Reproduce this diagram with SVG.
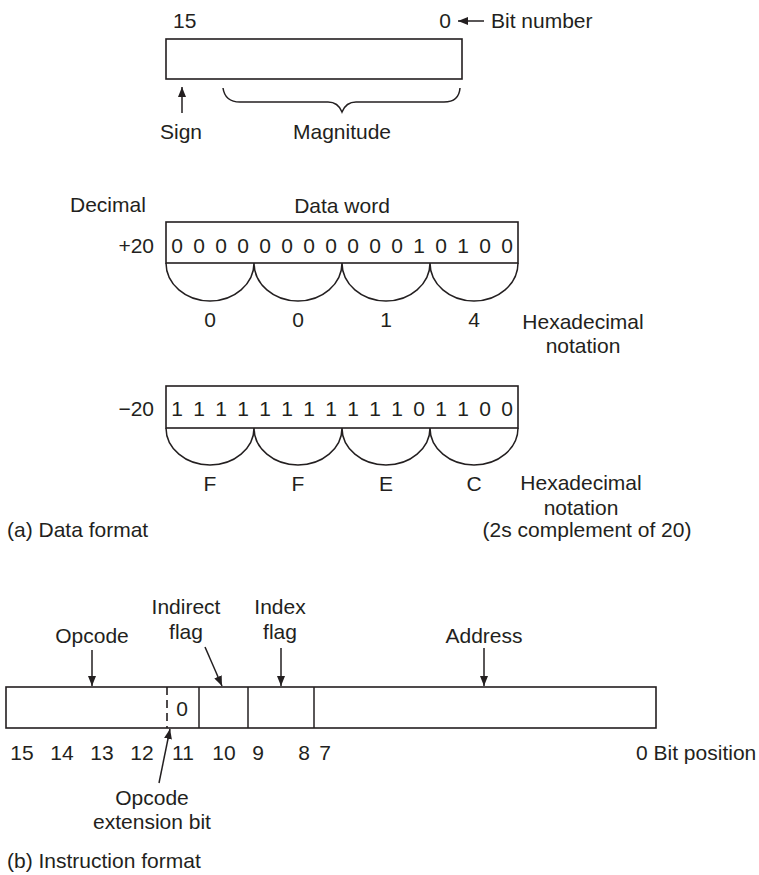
<svg xmlns="http://www.w3.org/2000/svg" width="759" height="875" viewBox="0 0 759 875">
<style>
text{font-family:"Liberation Sans",Arial,Helvetica,sans-serif;font-size:21px;fill:#231f20}
.m{text-anchor:middle}
.e{text-anchor:end}
.box{fill:#fff;stroke:#231f20;stroke-width:1.6}
.ln{fill:none;stroke:#231f20;stroke-width:1.5}
.ar{fill:none;stroke:#231f20;stroke-width:1.5;marker-end:url(#ah)}
.dash{stroke:#231f20;stroke-width:1.6;stroke-dasharray:8,5}
</style>
<defs>
<marker id="ah" viewBox="0 0 10 8" refX="10" refY="4" markerWidth="10" markerHeight="8" markerUnits="userSpaceOnUse" orient="auto">
<path d="M0,0 L10,4 L0,8 z" fill="#231f20"/>
</marker>
</defs>
<rect width="759" height="875" fill="#fff"/>

<g id="sign-magnitude-word">
<rect class="box" x="166" y="39" width="296" height="40"/>
<text x="173" y="28">15</text>
<text class="m" x="445" y="28">0</text>
<text x="491" y="28">Bit number</text>
<text x="160" y="139">Sign</text>
<text class="m" x="342" y="139">Magnitude</text>
</g>

<g id="data-word-plus20">
<text x="70" y="212">Decimal</text>
<text class="m" x="342" y="213">Data word</text>
<text class="e" x="154" y="253">+20</text>
<rect class="box" x="166" y="222" width="352" height="41"/>
<g class="m">
<text class="m" x="177" y="253">0</text><text class="m" x="199" y="253">0</text><text class="m" x="221" y="253">0</text><text class="m" x="243" y="253">0</text>
<text class="m" x="265" y="253">0</text><text class="m" x="287" y="253">0</text><text class="m" x="309" y="253">0</text><text class="m" x="331" y="253">0</text>
<text class="m" x="353" y="253">0</text><text class="m" x="375" y="253">0</text><text class="m" x="397" y="253">0</text><text class="m" x="419" y="253">1</text>
<text class="m" x="441" y="253">0</text><text class="m" x="463" y="253">1</text><text class="m" x="485" y="253">0</text><text class="m" x="507" y="253">0</text>
</g>
<path class="ln" d="M166,263 A44,38 0 0 0 254,263 A44,38 0 0 0 342,263 A44,38 0 0 0 430,263 A44,38 0 0 0 518,263"/>
<text class="m" x="210" y="327">0</text>
<text class="m" x="298" y="327">0</text>
<text class="m" x="386" y="327">1</text>
<text class="m" x="474" y="327">4</text>
<text class="m" x="583" y="329">Hexadecimal</text>
<text class="m" x="583" y="353">notation</text>
</g>

<g id="data-word-minus20">
<text class="e" x="154" y="416">−20</text>
<rect class="box" x="166" y="386" width="352" height="42"/>
<text class="m" x="177" y="416">1</text><text class="m" x="199" y="416">1</text><text class="m" x="221" y="416">1</text><text class="m" x="243" y="416">1</text>
<text class="m" x="265" y="416">1</text><text class="m" x="287" y="416">1</text><text class="m" x="309" y="416">1</text><text class="m" x="331" y="416">1</text>
<text class="m" x="353" y="416">1</text><text class="m" x="375" y="416">1</text><text class="m" x="397" y="416">1</text><text class="m" x="419" y="416">0</text>
<text class="m" x="441" y="416">1</text><text class="m" x="463" y="416">1</text><text class="m" x="485" y="416">0</text><text class="m" x="507" y="416">0</text>
<path class="ln" d="M166,428 A44,37 0 0 0 254,428 A44,37 0 0 0 342,428 A44,37 0 0 0 430,428 A44,37 0 0 0 518,428"/>
<text class="m" x="210" y="491">F</text>
<text class="m" x="298" y="491">F</text>
<text class="m" x="386" y="491">E</text>
<text class="m" x="474" y="491">C</text>
<text class="m" x="581" y="490">Hexadecimal</text>
<text class="m" x="581" y="515">notation</text>
<text class="m" x="587" y="537">(2s complement of 20)</text>
</g>

<text x="7" y="537">(a) Data format</text>

<g id="instruction-word">
<rect class="box" x="6" y="687" width="650" height="41"/>
<line class="dash" x1="167" y1="687" x2="167" y2="728"/>
<line class="ln" x1="199" y1="687" x2="199" y2="728"/>
<line class="ln" x1="248" y1="687" x2="248" y2="728"/>
<line class="ln" x1="314" y1="687" x2="314" y2="728"/>
<text class="m" x="182" y="716">0</text>
<text class="m" x="22" y="760">15</text>
<text class="m" x="62" y="760">14</text>
<text class="m" x="102" y="760">13</text>
<text class="m" x="142" y="760">12</text>
<text class="m" x="183" y="760">11</text>
<text class="m" x="224" y="760">10</text>
<text class="m" x="258" y="760">9</text>
<text class="m" x="304" y="760">8</text>
<text class="m" x="325" y="760">7</text>
<text x="636" y="760">0 Bit position</text>
</g>

<g id="instruction-labels">
<text class="m" x="92" y="643">Opcode</text>
<text class="m" x="186" y="614">Indirect</text>
<text class="m" x="186" y="639">flag</text>
<text class="m" x="280" y="614">Index</text>
<text class="m" x="280" y="639">flag</text>
<text class="m" x="484" y="643">Address</text>
<text class="m" x="152" y="805">Opcode</text>
<text class="m" x="152" y="829">extension bit</text>
</g>

<text x="7" y="868">(b) Instruction format</text>

<g id="connectors">
<line class="ar" x1="484" y1="21" x2="458" y2="21"/>
<line class="ar" x1="182" y1="113" x2="182" y2="87"/>
<path class="ln" d="M223,88 Q225,102 240,102 L328,102 Q338,102 342,112 Q346,102 356,102 L444,102 Q459,102 460,88"/>
<line class="ar" x1="92" y1="650" x2="92" y2="686"/>
<line class="ar" x1="205" y1="647" x2="222" y2="686"/>
<line class="ar" x1="281" y1="648" x2="281" y2="686"/>
<line class="ar" x1="484" y1="648" x2="484" y2="686"/>
<line class="ar" x1="159" y1="783" x2="170" y2="729"/>
</g>
</svg>
